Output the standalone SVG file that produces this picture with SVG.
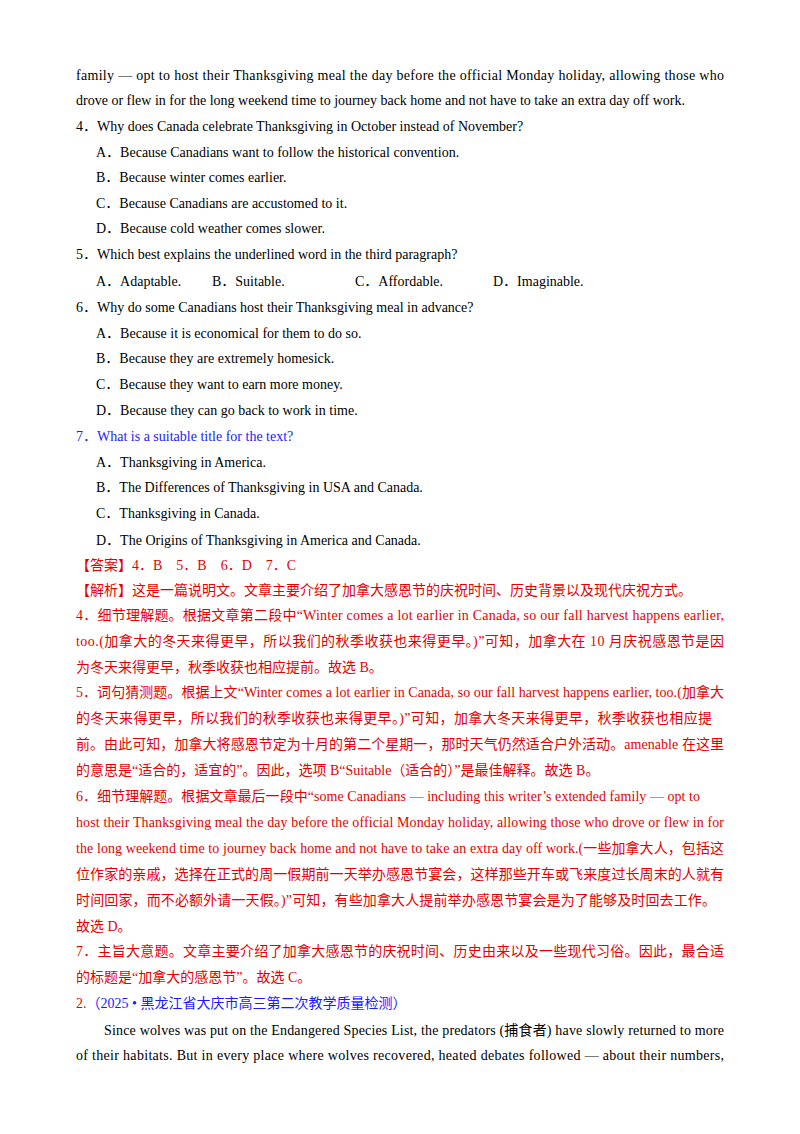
<svg xmlns="http://www.w3.org/2000/svg" width="800" height="1134" viewBox="0 0 800 1134">
<style>
text{font-family:"Liberation Serif","Noto Sans CJK SC",serif;font-size:14px;fill:#000}
.r{fill:#e60000}
.b{fill:#1a1aff}
</style>
<rect width="800" height="1134" fill="#fff"/>
<text x="76" y="80" textLength="648" lengthAdjust="spacing">family — opt to host their Thanksgiving meal the day before the official Monday holiday, allowing those who</text>
<text x="76" y="105">drove or flew in for the long weekend time to journey back home and not have to take an extra day off work.</text>
<text x="76" y="131">4．Why does Canada celebrate Thanksgiving in October instead of November?</text>
<text x="96" y="157">A．Because Canadians want to follow the historical convention.</text>
<text x="96" y="182">B．Because winter comes earlier.</text>
<text x="96" y="208">C．Because Canadians are accustomed to it.</text>
<text x="96" y="233">D．Because cold weather comes slower.</text>
<text x="76" y="259">5．Which best explains the underlined word in the third paragraph?</text>
<text x="96" y="286">A．Adaptable.</text>
<text x="212" y="286">B．Suitable.</text>
<text x="355" y="286">C．Affordable.</text>
<text x="493" y="286">D．Imaginable.</text>
<text x="76" y="312">6．Why do some Canadians host their Thanksgiving meal in advance?</text>
<text x="96" y="338">A．Because it is economical for them to do so.</text>
<text x="96" y="363">B．Because they are extremely homesick.</text>
<text x="96" y="389">C．Because they want to earn more money.</text>
<text x="96" y="415">D．Because they can go back to work in time.</text>
<text x="76" y="441" class="b">7．What is a suitable title for the text?</text>
<text x="96" y="467">A．Thanksgiving in America.</text>
<text x="96" y="492">B．The Differences of Thanksgiving in USA and Canada.</text>
<text x="96" y="518">C．Thanksgiving in Canada.</text>
<text x="96" y="545">D．The Origins of Thanksgiving in America and Canada.</text>
<g class="r">
<text x="76" y="570" class="r">【答案】4．B　5．B　6．D　7．C</text>
<text x="76" y="595" class="r">【解析】这是一篇说明文。文章主要介绍了加拿大感恩节的庆祝时间、历史背景以及现代庆祝方式。</text>
<text x="76" y="620" class="r" textLength="648" lengthAdjust="spacing">4．细节理解题。根据文章第二段中“Winter comes a lot earlier in Canada, so our fall harvest happens earlier,</text>
<text x="76" y="646" class="r" textLength="648" lengthAdjust="spacing">too.(加拿大的冬天来得更早，所以我们的秋季收获也来得更早。)”可知，加拿大在 10 月庆祝感恩节是因</text>
<text x="76" y="672" class="r">为冬天来得更早，秋季收获也相应提前。故选 B。</text>
<text x="76" y="697" class="r" textLength="648" lengthAdjust="spacing">5．词句猜测题。根据上文“Winter comes a lot earlier in Canada, so our fall harvest happens earlier, too.(加拿大</text>
<text x="76" y="723" class="r" textLength="636" lengthAdjust="spacing">的冬天来得更早，所以我们的秋季收获也来得更早。)”可知，加拿大冬天来得更早，秋季收获也相应提</text>
<text x="76" y="749" class="r" textLength="648" lengthAdjust="spacing">前。由此可知，加拿大将感恩节定为十月的第二个星期一，那时天气仍然适合户外活动。amenable 在这里</text>
<text x="76" y="775" class="r">的意思是“适合的，适宜的”。因此，选项 B“Suitable（适合的）”是最佳解释。故选 B。</text>
<text x="76" y="801" class="r" textLength="624" lengthAdjust="spacing">6．细节理解题。根据文章最后一段中“some Canadians — including this writer’s extended family — opt to</text>
<text x="76" y="827" class="r" textLength="648" lengthAdjust="spacing">host their Thanksgiving meal the day before the official Monday holiday, allowing those who drove or flew in for</text>
<text x="76" y="853" class="r" textLength="648" lengthAdjust="spacing">the long weekend time to journey back home and not have to take an extra day off work.(一些加拿大人，包括这</text>
<text x="76" y="879" class="r" textLength="648" lengthAdjust="spacing">位作家的亲戚，选择在正式的周一假期前一天举办感恩节宴会，这样那些开车或飞来度过长周末的人就有</text>
<text x="76" y="905" class="r" textLength="640" lengthAdjust="spacing">时间回家，而不必额外请一天假。)”可知，有些加拿大人提前举办感恩节宴会是为了能够及时回去工作。</text>
<text x="76" y="931" class="r">故选 D。</text>
<text x="76" y="956" class="r" textLength="648" lengthAdjust="spacing">7．主旨大意题。文章主要介绍了加拿大感恩节的庆祝时间、历史由来以及一些现代习俗。因此，最合适</text>
<text x="76" y="982" class="r">的标题是“加拿大的感恩节”。故选 C。</text>
</g>
<text x="76" y="1008"><tspan class="r">2.</tspan><tspan class="b">（2025 • 黑龙江省大庆市高三第二次教学质量检测）</tspan></text>
<text x="104" y="1035" textLength="620" lengthAdjust="spacing">Since wolves was put on the Endangered Species List, the predators (捕食者) have slowly returned to more</text>
<text x="76" y="1060" textLength="648" lengthAdjust="spacing">of their habitats. But in every place where wolves recovered, heated debates followed — about their numbers,</text>
</svg>
